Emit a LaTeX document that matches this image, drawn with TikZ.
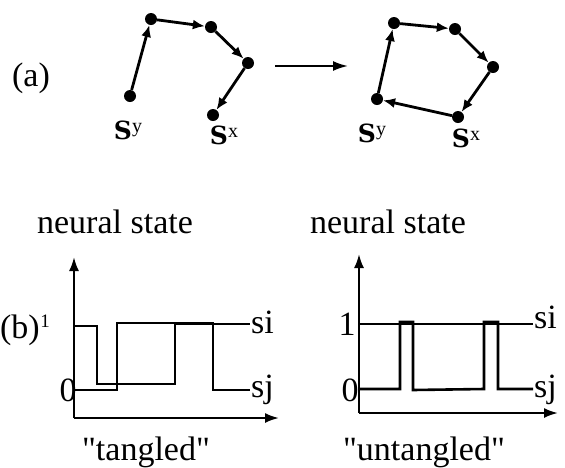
\documentclass[tikz,border=0pt]{standalone}
\usepackage{fontspec}
\setmainfont{Liberation Serif}[Ligatures=TeXOff]
\newfontfamily\statefont{DejaVu Serif}
\usetikzlibrary{arrows.meta}

\begin{document}
\begin{tikzpicture}[x=1pt, y=-1pt,
    dot_style/.style={circle, fill, inner sep=0pt, minimum size=12pt},
    link_style/.style={line width=2.8pt, -{Latex[length=12pt,width=10pt]}},
    axis_style/.style={line width=2.2pt, -{Latex[length=14pt,width=10pt]}},
    wave_style/.style={line width=2.6pt},
    text_style/.style={font=\fontsize{34}{38}\selectfont, inner sep=0pt},
    state_style/.style={font=\fontsize{25}{30}\selectfont\statefont\bfseries, inner sep=0pt}
]
\useasboundingbox (0,0) rectangle (565,467);
% (a) : avant
\node[text_style, anchor=base] (lbla) at (31,86) {(a)};
\node[dot_style] (p1) at (130,96) {};
\node[dot_style] (p2) at (151,19) {};
\node[dot_style] (p3) at (211,27) {};
\node[dot_style] (p4) at (248,63) {};
\node[dot_style] (p5) at (213,115) {};
\draw[link_style] (p1)--(p2);
\draw[link_style] (p2)--(p3);
\draw[link_style] (p3)--(p4);
\draw[link_style] (p4)--(p5);
\node[state_style] (sy1) at (128,130) {S\raisebox{7pt}{\rmfamily\mdseries\fontsize{20}{22}\selectfont y}};
\node[state_style] (sx1) at (224,135) {S\raisebox{7pt}{\rmfamily\mdseries\fontsize{20}{22}\selectfont x}};
% fleche centrale
\coordinate (f1) at (275,66);
\coordinate (f2) at (348,66);
\draw[line width=2pt, -{Latex[length=15pt,width=10pt]}] (f1)--(f2);
% (a) : apres
\node[dot_style] (q1) at (377,99) {};
\node[dot_style] (q2) at (394,23) {};
\node[dot_style] (q3) at (455,29) {};
\node[dot_style] (q4) at (493,67) {};
\node[dot_style] (q5) at (458,117) {};
\draw[link_style] (q1)--(q2);
\draw[link_style] (q2)--(q3);
\draw[link_style] (q3)--(q4);
\draw[link_style] (q4)--(q5);
\draw[link_style] (q5)--(q1);
\node[state_style] (sy2) at (372,133) {S\raisebox{7pt}{\rmfamily\mdseries\fontsize{20}{22}\selectfont y}};
\node[state_style] (sx2) at (466,138) {S\raisebox{7pt}{\rmfamily\mdseries\fontsize{20}{22}\selectfont x}};
% (b) : "tangled"
\node[text_style, anchor=base] (ns1) at (115,233) {neural state};
\coordinate (o1) at (74,418);
\coordinate (y1) at (74,257);
\coordinate (x1) at (279,418);
\draw[axis_style] (o1)--(y1);
\draw[axis_style] (o1)--(x1);
\draw[wave_style] (74,326)--(97,326)--(97,384)--(175,384)--(175,324)--(250,324);
\draw[wave_style] (74,390)--(117,390)--(117,323)--(213,323)--(213,390)--(250,390);
\node[text_style, anchor=base] (lblb) at (20,338) {(b)};
\node[inner sep=0pt, font=\fontsize{19}{22}\selectfont] (one1) at (45,321) {1};
\node[text_style] (zero1) at (68,390) {0};
\node[text_style, anchor=base west] (si1) at (251,333) {si};
\node[text_style, anchor=base west] (sj1) at (251,397) {sj};
\node[text_style, anchor=base] (tg) at (146,460) {"tangled"};
% (b) : "untangled"
\node[text_style, anchor=base] (ns2) at (388,233) {neural state};
\coordinate (o2) at (359,413);
\coordinate (y2) at (359,254);
\coordinate (x2) at (558,413);
\draw[axis_style] (o2)--(y2);
\draw[axis_style] (o2)--(x2);
\draw[wave_style] (359,324)--(533,324);
\draw[wave_style] (359,389)--(400,389)--(400,322)--(413,322)--(413,390)--(484,389)--(484,322)--(498,322)--(498,389)--(533,389);
\node[text_style] (one2) at (347,324) {1};
\node[text_style] (zero2) at (350,390) {0};
\node[text_style, anchor=base west] (si2) at (534,328) {si};
\node[text_style, anchor=base west] (sj2) at (534,397) {sj};
\node[text_style, anchor=base] (utg) at (424,460) {"untangled"};
\end{tikzpicture}
\end{document}
